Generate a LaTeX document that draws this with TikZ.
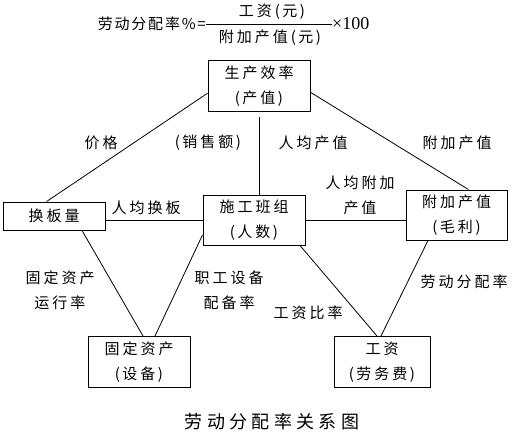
\documentclass[tikz,border=0pt]{standalone}
\usepackage{fontspec}
\setmainfont{Noto Sans CJK SC}
\newfontfamily\numfont{Liberation Serif}
\usetikzlibrary{positioning}

\begin{document}
\begin{tikzpicture}[
  x=1pt, y=-1pt,
  box/.style={draw, line width=1pt, minimum width=102pt, minimum height=51pt,
              align=center, inner sep=0pt,
              font=\fontsize{15}{25}\selectfont\addfontfeatures{LetterSpace=20}},
  lbl/.style={align=center, inner sep=0pt,
              font=\fontsize{15}{25}\selectfont\addfontfeatures{LetterSpace=20}},
  link/.style={line width=0.8pt},
]
\useasboundingbox (0,0) rectangle (514,434);

% formula
\node[lbl, anchor=east, font=\fontsize{15}{18}\selectfont\addfontfeatures{LetterSpace=12}] (lhs) at (206,24) {劳动分配率\%=};
\node[lbl] (num) at (272,12) {工资(\,元\,)};
\node[lbl] (den) at (270,38) {附加产值(\,元\,)};
\node[anchor=west, inner sep=0pt, font=\numfont\fontsize{18}{20}\selectfont] (times) at (332,24) {×100};
\draw[line width=0.8pt] (lhs.east) -- (times.west);

% boxes
\node[box] (eff) at (259,86) {生产效率\\(\,产值\,)};
\node[box, minimum height=28pt] (swap) at (54,216) {换板量};
\node[box, minimum height=50pt] (team) at (254,220) {施工班组\\(\,人数\,)};
\node[box, minimum width=101pt, minimum height=50pt] (added) at (456.5,215) {附加产值\\(\,毛利\,)};
\node[box] (asset) at (139,362) {固定资产\\(\,设备\,)};
\node[box, minimum width=96pt] (wage) at (382,362) {工资\\(\,劳务费\,)};

% connectors
\draw[link] (eff.188) -- (swap.117);
\draw[link] (eff.353) -- (added.65);
\draw[link] ([yshift=-5pt]eff.south) -- (eff.south |- team.north);
\draw[link] (swap.east |- team.west) -- (team.west);
\draw[link] (team.east) -- (team.east -| added.west);
\draw[link] ([xshift=28pt]swap.south) -- ([xshift=4pt]asset.north);
\draw[link] ([yshift=-15pt]team.west) -- ([xshift=16pt]asset.north);
\draw[link] ([xshift=46pt]team.south) -- ([xshift=-5pt]wage.north);
\draw[link] ([xshift=-28.5pt]added.south) -- ([xshift=-1pt]wage.north);

% labels
\node[lbl] (price) at (101,143) {价格};
\node[lbl] (sales) at (208,143) {(\,销售额\,)};
\node[lbl] (perout) at (313,143) {人均产值};
\node[lbl] (addout) at (457,143) {附加产值};
\node[lbl] (perswap) at (146,208) {人均换板};
\node[lbl] (peradd) at (360,195) {人均附加\\产值};
\node[lbl] (assetrate) at (60,290) {固定资产\\运行率};
\node[lbl] (equiprate) at (229,290) {职工设备\\配备率};
\node[lbl] (wagerate) at (308,313) {工资比率};
\node[lbl] (laborrate) at (464,282) {劳动分配率};

% caption
\node[inner sep=0pt, font=\fontsize{18}{20}\selectfont\addfontfeatures{LetterSpace=24}] (caption) at (272,422) {劳动分配率关系图};
\end{tikzpicture}
\end{document}
